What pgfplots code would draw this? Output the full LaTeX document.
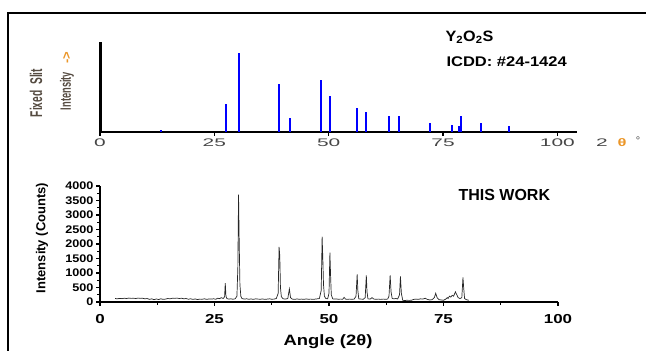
\documentclass[border=0pt]{standalone}
\usepackage{fontspec}
\setmainfont{Liberation Sans}
\usepackage{pgfplots}
\pgfplotsset{compat=1.18}
\usepackage{graphicx}
\definecolor{lblgray}{RGB}{85,75,65}
\definecolor{arrorange}{RGB}{235,150,40}
\definecolor{tickgray}{RGB}{70,70,70}
\begin{document}
\begin{tikzpicture}[x=1pt,y=1pt]
\useasboundingbox (0pt,0pt) rectangle (646pt,351pt);
\draw[line width=2pt] (8pt,0pt) -- (8pt,338pt) -- (646pt,338pt);
% ---------- top: reference pattern ----------
\begin{axis}[
  at={(100pt,219pt)}, anchor=south west, scale only axis,
  width=477pt, height=90pt,
  xmin=0, xmax=104.3, ymin=0, ymax=114,
  axis x line=bottom, axis y line=left,
  x axis line style={-, line width=1.6pt},
  y axis line style={-, line width=3pt},
  xtick={0,25,50,75,100}, ytick=\empty,
  xticklabels={\scalebox{1.9}[1]{0},\scalebox{1.9}[1]{25},\scalebox{1.9}[1]{50},\scalebox{1.9}[1]{75},\scalebox{1.9}[1]{100}},
  tick align=outside, major tick length=4pt,
  every tick/.style={black, line width=1.5pt},
  xticklabel style={font=\fontsize{11}{11}\selectfont, text=tickgray, yshift=1pt},
  clip=false,
]
\addplot[ycomb, blue, line width=2pt] coordinates {
(13.3,2) (27.5,35) (30.4,100) (39.1,61) (41.5,18) (48.3,66) (50.2,46)
(56.1,30) (58.1,25) (63.3,20) (65.3,20) (72.1,11) (76.9,9) (78.4,8)
(78.9,20) (83.2,11) (89.5,8)
};
\end{axis}
% ---------- bottom: this work ----------
\begin{axis}[
  at={(100pt,49pt)}, anchor=south west, scale only axis,
  width=458pt, height=116pt,
  xmin=0, xmax=100, ymin=0, ymax=4000,
  axis x line=bottom, axis y line=left,
  axis line style={-, line width=1.5pt},
  xtick={0,25,50,75,100}, minor x tick num=1,
  ytick={0,500,1000,1500,2000,2500,3000,3500,4000}, minor y tick num=1,
  xticklabels={\scalebox{1.3}[1]{0},\scalebox{1.3}[1]{25},\scalebox{1.3}[1]{50},\scalebox{1.3}[1]{75},\scalebox{1.3}[1]{100}},
  yticklabels={\scalebox{1.15}[1]{0},\scalebox{1.15}[1]{500},\scalebox{1.15}[1]{1000},\scalebox{1.15}[1]{1500},\scalebox{1.15}[1]{2000},\scalebox{1.15}[1]{2500},\scalebox{1.15}[1]{3000},\scalebox{1.15}[1]{3500},\scalebox{1.15}[1]{4000}},
  tick align=outside, major tick length=4pt, minor tick length=3pt,
  every tick/.style={black, line width=1.2pt},
  xticklabel style={font=\fontsize{13}{13}\bfseries, yshift=-5pt},
  yticklabel style={font=\fontsize{11}{11}\bfseries, xshift=1pt},
  clip=false,
]
\addplot[black!85, line width=0.7pt] coordinates {
(3.3,120) (3.8,110) (4.3,125) (4.8,115) (5.3,130) (5.8,120) (6.3,135) (6.8,125)
(7.3,130) (7.8,120) (8.3,135) (8.8,125) (9.3,130) (9.8,110) (10.3,120) (10.8,90)
(11.3,110) (11.8,80) (12.3,105) (12.8,85) (13.3,110) (13.8,90) (14.3,100) (14.8,120)
(15.3,110) (15.8,130) (16.3,125) (16.8,135) (17.3,120) (17.8,130) (18.3,110) (18.8,120)
(19.3,95) (19.8,110) (20.3,90) (20.8,105) (21.3,85) (21.8,100) (22.3,95) (22.8,110)
(23.3,90) (23.8,105) (24.3,100) (24.8,110) (25.3,95) (25.7,130) (26.1,115) (26.5,150)
(26.9,120) (27.2,180) (27.35,650) (27.5,200) (27.7,120) (28.1,100) (28.6,110) (29.0,95)
(29.5,110) (29.9,200) (30.1,1200) (30.25,3700) (30.4,2000) (30.55,600) (30.75,200) (31.0,120)
(31.5,100) (32.0,110) (32.5,95) (33.0,105) (33.5,90) (34.0,110) (34.5,100) (35.0,95)
(35.5,105) (36.0,90) (36.5,100) (37.0,110) (37.5,95) (38.0,100) (38.5,120) (38.9,300)
(39.1,1900) (39.25,1600) (39.4,500) (39.6,180) (40.0,110) (40.5,100) (41.0,120) (41.35,450)
(41.6,150) (42.0,100) (42.5,90) (43.0,105) (43.5,95) (44.0,100) (44.5,90) (45.0,105)
(45.5,95) (46.0,100) (46.5,90) (47.0,100) (47.5,110) (47.9,120) (48.3,400) (48.5,2250)
(48.65,1500) (48.8,600) (49.0,200) (49.3,120) (49.7,110) (50.0,300) (50.2,1700) (50.35,900)
(50.5,250) (50.8,110) (51.2,100) (51.6,105) (52.0,95) (52.5,100) (53.0,95) (53.3,160)
(53.6,100) (54.0,90) (54.5,100) (55.0,95) (55.5,100) (55.9,200) (56.15,950) (56.3,400)
(56.5,110) (57.0,100) (57.5,95) (57.9,150) (58.15,920) (58.3,350) (58.5,110) (59.0,100)
(59.4,150) (59.8,100) (60.3,95) (60.8,100) (61.3,90) (61.8,100) (62.3,95) (62.8,100)
(63.1,200) (63.35,920) (63.55,350) (63.8,120) (64.2,110) (64.6,120) (65.0,105) (65.4,250)
(65.6,880) (65.8,300) (66.1,60) (66.5,50) (67.0,60) (67.5,55) (68.0,60) (68.5,90)
(69.0,100) (69.5,90) (70.0,110) (70.5,100) (71.0,130) (71.5,90) (72.0,70) (72.5,80)
(73.0,150) (73.3,300) (73.6,150) (74.0,80) (74.5,70) (75.0,60) (75.5,100) (75.8,150)
(76.0,120) (76.3,200) (76.6,170) (76.9,230) (77.2,200) (77.6,350) (77.9,250) (78.2,150)
(78.6,120) (79.0,150) (79.25,850) (79.4,500) (79.6,120) (80.0,80) (80.5,60)
};
\end{axis}
% ---------- texts ----------
\node[anchor=west, font=\fontsize{15}{15}\bfseries] at (442pt,314pt) {\scalebox{1.08}[1]{Y\textsubscript{2}O\textsubscript{2}S}};
\node[anchor=west, font=\fontsize{14}{14}\bfseries] at (443pt,289pt) {\scalebox{1.18}[1]{ICDD: \#24-1424}};
\node[anchor=west, font=\fontsize{16}{16}\bfseries] at (455pt,156pt) {THIS WORK};
\node[font=\fontsize{15}{15}\bfseries] at (328pt,9pt) {\scalebox{1.23}[1]{Angle (2θ)}};
\node[rotate=90, font=\fontsize{13}{13}\bfseries] at (42pt,113pt) {Intensity (Counts)};
\node[rotate=90, font=\fontsize{17}{17}\bfseries, text=lblgray] at (36pt,258pt) {\scalebox{0.6}[1]{Fixed\ \ Slit}};
\node[rotate=90, font=\fontsize{15}{15}\bfseries, text=lblgray] at (67pt,260pt) {\scalebox{0.62}[1]{Intensity}};
\node[rotate=90, font=\fontsize{13}{13}\bfseries, text=arrorange] at (67pt,293pt) {->};
\node[font=\fontsize{11}{11}\selectfont, text=tickgray] at (602pt,208pt) {\scalebox{1.9}[1]{2}};
\node[font=\fontsize{11}{11}\bfseries, text=arrorange] at (622pt,208pt) {\scalebox{1.5}[1]{θ}};
\node[font=\fontsize{11}{11}\selectfont, text=tickgray] at (638pt,210pt) {°};
\end{tikzpicture}
\end{document}
